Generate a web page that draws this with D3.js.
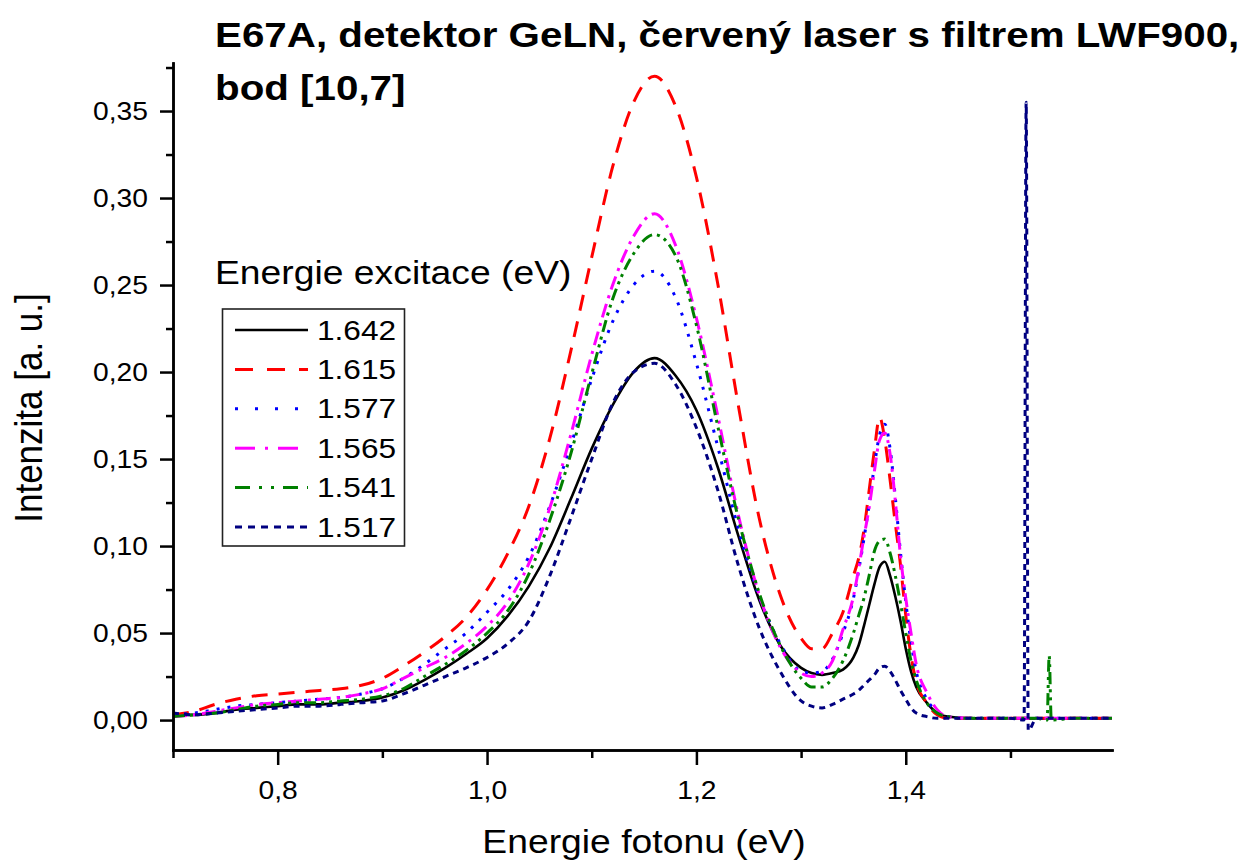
<!DOCTYPE html>
<html>
<head>
<meta charset="utf-8">
<script src="https://cdn.jsdelivr.net/npm/d3@7"></script>
<style>
body { margin: 0; background: #fff; }
svg { display: block; }
text { font-family: Arial, "Liberation Sans", sans-serif; fill: #000; }
</style>
</head>
<body>
<div id="chart"></div>
<script>

// photon energy (eV), common grid for all spectra
var energy = [0.70,0.72,0.74,0.76,0.78,0.80,0.82,0.84,0.86,0.88,
              0.90,0.92,0.94,0.96,0.98,1.00,1.02,1.04,1.06,1.08,
              1.10,1.12,1.14,1.16,1.18,1.20,1.22,1.24,1.26,1.28,
              1.30,1.31,1.32,1.33,1.34,1.35,1.355,1.36,1.365,1.37,
              1.375,1.38,1.385,1.39,1.395,1.40,1.405,1.41,1.42,1.43,
              1.44,1.46,1.48,1.50,1.513,1.515,1.517,1.525,1.535,1.537,
              1.539,1.56,1.58,1.597];

// intensity (a. u.) for each excitation energy
var s1642 = [0.003,0.003,0.004,0.006,0.007,0.008,0.009,0.009,0.010,0.011,
             0.013,0.017,0.023,0.030,0.038,0.047,0.060,0.077,0.099,0.127,
             0.156,0.181,0.200,0.208,0.198,0.178,0.146,0.106,0.069,0.043,
             0.030,0.027,0.026,0.027,0.029,0.036,0.043,0.054,0.066,0.078,
             0.088,0.091,0.083,0.071,0.057,0.041,0.028,0.019,0.010,0.004,
             0.002,0.001,0.001,0.001,0.001,0.001,0.001,0.001,0.001,0.001,
             0.001,0.001,0.001,0.001];
var s1615 = [0.003,0.005,0.009,0.012,0.014,0.015,0.016,0.017,0.018,0.020,
             0.024,0.031,0.039,0.048,0.059,0.075,0.096,0.123,0.162,0.212,
             0.266,0.318,0.355,0.370,0.353,0.312,0.252,0.181,0.116,0.072,
             0.047,0.041,0.041,0.050,0.062,0.083,0.093,0.109,0.132,0.155,
             0.174,0.161,0.138,0.113,0.089,0.060,0.037,0.022,0.010,0.003,
             0.001,0.001,0.001,0.001,0.001,0.001,0.001,0.001,0.001,0.001,
             0.001,0.001,0.001,0.001];
var s1577 = [0.003,0.004,0.006,0.008,0.009,0.010,0.011,0.012,0.013,0.015,
             0.018,0.024,0.032,0.041,0.050,0.062,0.075,0.094,0.123,0.158,
             0.196,0.229,0.250,0.258,0.243,0.205,0.158,0.110,0.071,0.044,
             0.028,0.027,0.028,0.035,0.050,0.070,0.086,0.104,0.124,0.146,
             0.164,0.170,0.156,0.128,0.096,0.068,0.045,0.028,0.012,0.005,
             0.002,0.001,0.001,0.001,0.001,0.001,0.001,0.001,0.001,0.001,
             0.001,0.001,0.001,0.001];
var s1565 = [0.002,0.003,0.005,0.007,0.009,0.010,0.011,0.012,0.013,0.015,
             0.018,0.024,0.030,0.036,0.044,0.054,0.068,0.090,0.122,0.164,
             0.210,0.250,0.278,0.291,0.273,0.231,0.176,0.118,0.072,0.042,
             0.027,0.025,0.027,0.034,0.052,0.071,0.087,0.105,0.122,0.143,
             0.161,0.165,0.153,0.126,0.094,0.070,0.050,0.032,0.016,0.006,
             0.002,0.001,0.001,0.001,0.001,0.001,0.001,0.001,0.001,0.001,
             0.001,0.001,0.001,0.001];
var s1541 = [0.002,0.003,0.004,0.006,0.008,0.009,0.010,0.010,0.011,0.012,
             0.014,0.018,0.025,0.032,0.040,0.050,0.063,0.084,0.115,0.153,
             0.199,0.242,0.268,0.279,0.267,0.227,0.170,0.116,0.073,0.043,
             0.024,0.019,0.019,0.024,0.034,0.050,0.060,0.070,0.083,0.097,
             0.103,0.104,0.096,0.083,0.067,0.050,0.034,0.023,0.010,0.004,
             0.002,0.001,0.001,0.001,0.001,0.001,0.001,0.001,0.000,0.037,
             0.000,0.001,0.001,0.001];
var s1517 = [0.004,0.003,0.004,0.005,0.006,0.007,0.008,0.008,0.009,0.010,
             0.011,0.015,0.020,0.025,0.030,0.036,0.044,0.057,0.083,0.116,
             0.150,0.182,0.200,0.205,0.193,0.168,0.133,0.089,0.053,0.028,
             0.011,0.008,0.007,0.009,0.012,0.015,0.017,0.020,0.023,0.026,
             0.030,0.031,0.028,0.023,0.017,0.012,0.007,0.004,0.002,0.001,
             0.001,0.001,0.001,0.001,0.000,0.355,-0.006,0.001,0.001,0.001,
             0.001,0.001,0.001,0.001];

var seriesNames = ["1.642", "1.615", "1.577", "1.565", "1.541", "1.517"];
var seriesValues = [s1642, s1615, s1577, s1565, s1541, s1517];

var xTicks = [0.8, 1.0, 1.2, 1.4];
var xMinor = [0.7, 0.9, 1.1, 1.3, 1.5];
var yTicks = [0.00, 0.05, 0.10, 0.15, 0.20, 0.25, 0.30, 0.35];
var yMinor = [0.025, 0.075, 0.125, 0.175, 0.225, 0.275, 0.325, 0.375];

// line styles (Origin-like)
var colors = ["#000000", "#ff0000", "#0000ff", "#ff00ff", "#008000", "#000080"];
var dashCurve = [null, "16,11", "3,8", "14,6,3,6", "12,5,3,5,3,5", "6,5"];
var dashLegend = [null, "18,14", "3,17", "20,10,3,10", "15,9,3,9,3,9", "7,6"];

var width = 1258, height = 868;
var SX = 1.13; // the original text is a bit wider than it is tall

var svg = d3.select("#chart").append("svg")
  .attr("width", width)
  .attr("height", height);

var x = d3.scaleLinear().domain([0.7, 1.597]).range([173, 1112]);
var y = d3.scaleLinear().domain([-0.0172, 0.3776]).range([750, 63]);

function comma(f) {
  return function(d) { return d3.format(f)(d).replace(".", ","); };
}

function label(txt, px, py, size, anchor, weight, rot) {
  return svg.append("text")
    .attr("transform", "translate(" + px + "," + py + ") scale(" + SX + ",1)" + (rot ? " rotate(" + rot + ")" : ""))
    .attr("font-size", size)
    .attr("text-anchor", anchor || "start")
    .attr("font-weight", weight || "normal")
    .text(txt);
}

// curves
var line = d3.line()
  .x(function(d) { return x(d[0]); })
  .y(function(d) { return y(d[1]); })
  .curve(d3.curveMonotoneX);

seriesValues.forEach(function(vals, i) {
  var pts = energy.map(function(e, j) { return [e, vals[j]]; });
  svg.append("path")
    .datum(pts)
    .attr("d", line)
    .attr("fill", "none")
    .attr("stroke", colors[i])
    .attr("stroke-width", i == 0 ? 2.6 : 3)
    .attr("stroke-dasharray", dashCurve[i]);
});

// axes
var xAxis = svg.append("g")
  .attr("transform", "translate(0," + y(-0.0172) + ")")
  .call(d3.axisBottom(x).tickValues(xTicks).tickSize(15).tickSizeOuter(0).tickFormat(comma(".1f")));
var xMin = svg.append("g")
  .attr("transform", "translate(0," + y(-0.0172) + ")")
  .call(d3.axisBottom(x).tickValues(xMinor).tickSize(8).tickSizeOuter(0).tickFormat(""));

var yAxis = svg.append("g")
  .attr("transform", "translate(" + x(0.7) + ",0)")
  .call(d3.axisLeft(y).tickValues(yTicks).tickSize(13).tickSizeOuter(0).tickFormat(comma(".2f")));
var yMin = svg.append("g")
  .attr("transform", "translate(" + x(0.7) + ",0)")
  .call(d3.axisLeft(y).tickValues(yMinor).tickSize(7).tickSizeOuter(0).tickFormat(""));

[xAxis, xMin, yAxis, yMin].forEach(function(g) {
  g.selectAll("path, line").attr("stroke", "#000").attr("stroke-width", 2.5);
  g.select(".domain").attr("stroke-linecap", "square");
});

xAxis.selectAll("text")
  .attr("x", 0).attr("y", 0).attr("dy", null)
  .attr("transform", "translate(0,49) scale(" + SX + ",1)")
  .attr("font-size", 25)
  .attr("font-family", "Arial, 'Liberation Sans', sans-serif")
  .attr("fill", "#000");

yAxis.selectAll("text")
  .attr("x", 0).attr("y", 0).attr("dy", "0.35em")
  .attr("transform", "translate(-25,0) scale(" + SX + ",1)")
  .attr("font-size", 25)
  .attr("font-family", "Arial, 'Liberation Sans', sans-serif")
  .attr("fill", "#000");

// axis titles
label("Energie fotonu (eV)", 644, 853, 33, "middle");
label("Intenzita [a. u.]", 42, 408, 35, "middle", "normal", -90);

// chart title
label("E67A, detektor GeLN, červený laser s filtrem LWF900,", 215, 47, 35.7, "start", "bold");
label("bod [10,7]", 215, 100, 35.7, "start", "bold");

// legend
label("Energie excitace (eV)", 215, 284, 33, "start");

svg.append("rect")
  .attr("x", 222.5).attr("y", 309)
  .attr("width", 182).attr("height", 237)
  .attr("fill", "none")
  .attr("stroke", "#222")
  .attr("stroke-width", 1.6);

seriesNames.forEach(function(name, i) {
  var ly = 330 + i * 39.4;
  svg.append("line")
    .attr("x1", 235).attr("x2", 308)
    .attr("y1", ly).attr("y2", ly)
    .attr("stroke", colors[i])
    .attr("stroke-width", i == 0 ? 2.6 : 3)
    .attr("stroke-dasharray", dashLegend[i]);
  label(name, 317, ly + 9.5, 28, "start");
});

</script>
</body>
</html>
